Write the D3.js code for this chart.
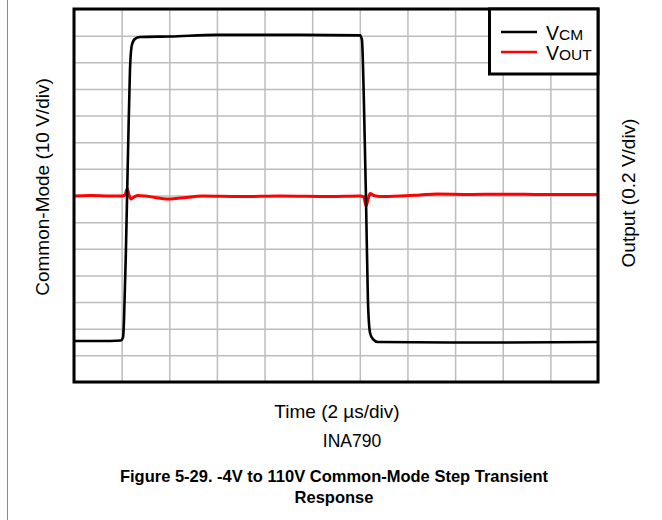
<!DOCTYPE html>
<html>
<head>
<meta charset="utf-8">
<script src="https://cdn.jsdelivr.net/npm/d3@7"></script>
<style>
  html, body { margin: 0; padding: 0; background: #fff; }
  svg text { font-family: "Liberation Sans", Arial, sans-serif; fill: #000; }
</style>
</head>
<body>
<svg id="chart" width="662" height="520"></svg>
<script>
// ---- data (time in µs, common-mode in V, output in V) ----
const xTicks = d3.range(0, 23, 2);            // 2 µs/div, 11 divisions
const yTicksCM = d3.range(-20, 121, 10);       // 10 V/div, 14 divisions
const cmTime = [0, 1.09, 1.97, 2.06, 2.10, 2.18, 2.27, 2.35, 2.43, 2.56, 2.77, 4.03, 6.00, 9.49, 12.01, 12.09, 12.17, 12.26, 12.34, 12.43, 12.55, 12.76, 15.79, 22];
const cmVolt = [-4.6, -4.6, -4.4, -3.1, 3.3, 29.5, 67.1, 97.1, 106.5, 108.8, 109.5, 109.7, 110.3, 110.3, 110.1, 108.4, 85.9, 48.3, 10.8, -1.6, -3.9, -5.0, -5.2, -5.0];
const outTime = [0, 0.67, 1.51, 2.02, 2.14, 2.23, 2.31, 2.39, 2.52, 2.69, 2.98, 3.40, 3.90, 4.45, 5.42, 6.97, 8.65, 10.75, 12.01, 12.17, 12.26, 12.34, 12.43, 12.59, 12.85, 13.69, 14.53, 15.24, 16.62, 17.88, 19.56, 20.82, 22];
const outVolt = [-0.004, 0, -0.004, -0.004, 0.004, 0.049, 0.004, -0.026, -0.011, 0, -0.004, -0.015, -0.026, -0.019, -0.004, -0.008, -0.004, -0.008, -0.004, -0.011, -0.079, -0.034, 0.015, 0, -0.008, -0.004, 0.004, 0.011, 0.008, 0.010, 0.008, 0.008, 0.008];
const legendLabels = [["V", "CM"], ["V", "OUT"]];
const legendColors = ["#000000", "#ff0000"];
const xLabel = "Time (2 \u00B5s/div)";
const yLabelLeft = "Common-Mode (10 V/div)";
const yLabelRight = "Output (0.2 V/div)";
const deviceLabel = "INA790";
const titleLines = ["Figure 5-29. -4V to 110V Common-Mode Step Transient", "Response"];

// ---- layout ----
const svg = d3.select("#chart");
const L = 74, R = 598, T = 9, B = 382;
const x = d3.scaleLinear().domain([0, 22]).range([L, R]);
const yCM = d3.scaleLinear().domain([-20, 120]).range([B, T]);
const yOut = d3.scaleLinear().domain([-1.4, 1.4]).range([B, T]);

// page frame line on the left
svg.append("line").attr("x1", 7.5).attr("x2", 7.5).attr("y1", 0).attr("y2", 520)
  .attr("stroke", "#8a8a8a").attr("stroke-width", 1);

// grid
const gx = svg.append("g").attr("transform", `translate(0,${B})`)
  .call(d3.axisBottom(x).tickValues(xTicks).tickSize(-(B - T)).tickFormat(""));
const gy = svg.append("g").attr("transform", `translate(${L},0)`)
  .call(d3.axisLeft(yCM).tickValues(yTicksCM).tickSize(-(R - L)).tickFormat(""));
[gx, gy].forEach(g => {
  g.select(".domain").remove();
  g.selectAll(".tick line").attr("stroke", "#bdbdbd").attr("stroke-width", 1.5);
});

// traces
const lineCM = d3.line().x((d, i) => x(cmTime[i])).y(d => yCM(d)).curve(d3.curveMonotoneX);
const lineOut = d3.line().x((d, i) => x(outTime[i])).y(d => yOut(d)).curve(d3.curveMonotoneX);

svg.append("path").attr("d", lineOut(outVolt)).attr("fill", "none")
  .attr("stroke", "#ff0000").attr("stroke-width", 3).attr("stroke-linejoin", "round");
svg.append("path").attr("d", lineCM(cmVolt)).attr("fill", "none")
  .attr("stroke", "#000").attr("stroke-width", 2.6).attr("stroke-linejoin", "round");

// plot frame
svg.append("rect").attr("x", L).attr("y", T).attr("width", R - L).attr("height", B - T)
  .attr("fill", "none").attr("stroke", "#000").attr("stroke-width", 3);

// legend
const lg = svg.append("g");
lg.append("rect").attr("x", 489.5).attr("y", T).attr("width", R - 489.5).attr("height", 74 - T)
  .attr("fill", "#fff").attr("stroke", "#000").attr("stroke-width", 3);
legendLabels.forEach((lab, i) => {
  const yy = 32 + i * 20;
  lg.append("line").attr("x1", 501).attr("x2", 537).attr("y1", yy).attr("y2", yy)
    .attr("stroke", legendColors[i]).attr("stroke-width", 2.6);
  const t = lg.append("text").attr("x", 546).attr("y", yy + 7.5).style("font-size", "19.5px");
  t.append("tspan").text(lab[0]);
  t.append("tspan").style("font-size", "15.5px").text(lab[1]);
});

// axis labels
svg.append("text").attr("x", 337).attr("y", 418).attr("text-anchor", "middle")
  .style("font-size", "19px").text(xLabel);
svg.append("text").attr("transform", `translate(49,187) rotate(-90)`)
  .attr("text-anchor", "middle").style("font-size", "19px").text(yLabelLeft);
svg.append("text").attr("transform", `translate(635,193) rotate(-90)`)
  .attr("text-anchor", "middle").style("font-size", "19px").text(yLabelRight);

svg.append("text").attr("x", 352).attr("y", 447).attr("text-anchor", "middle")
  .style("font-size", "17.5px").text(deviceLabel);

titleLines.forEach((s, i) => {
  svg.append("text").attr("x", 334).attr("y", 482 + i * 21).attr("text-anchor", "middle")
    .style("font-size", "16.5px").style("font-weight", "bold").text(s);
});
</script>
</body>
</html>
